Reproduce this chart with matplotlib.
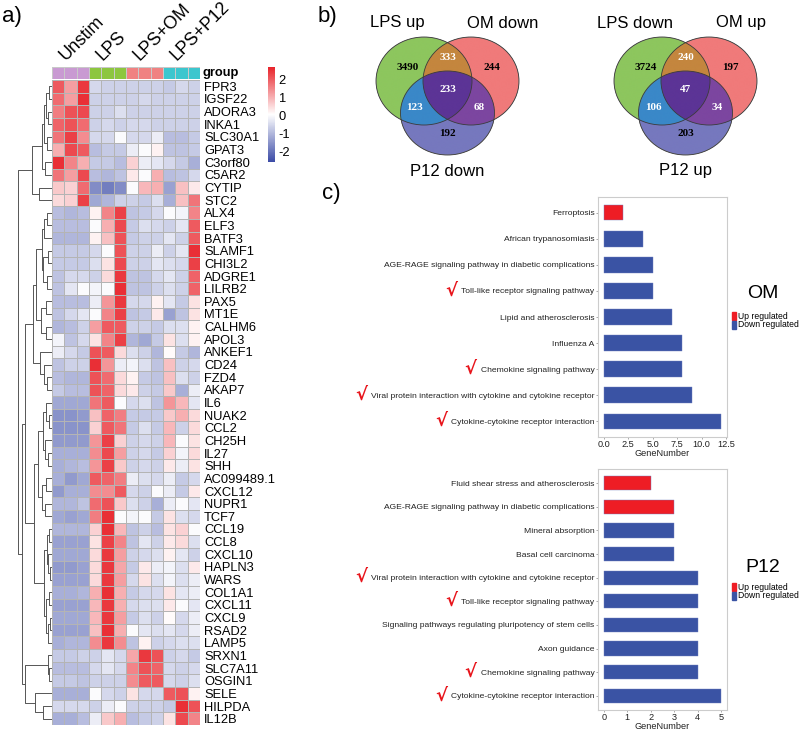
import matplotlib
matplotlib.use("Agg")
import matplotlib.pyplot as plt
import numpy as np
from matplotlib.colors import LinearSegmentedColormap, Normalize, ListedColormap, to_rgb
from matplotlib.patches import Ellipse, Rectangle

plt.rcParams['font.family'] = ['Liberation Sans', 'DejaVu Sans']

# ---------------- DATA ----------------
genes = ["FPR3", "IGSF22", "ADORA3", "INKA1", "SLC30A1", "GPAT3", "C3orf80", "C5AR2",
         "CYTIP", "STC2", "ALX4", "ELF3", "BATF3", "SLAMF1", "CHI3L2", "ADGRE1",
         "LILRB2", "PAX5", "MT1E", "CALHM6", "APOL3", "ANKEF1", "CD24", "FZD4",
         "AKAP7", "IL6", "NUAK2", "CCL2", "CH25H", "IL27", "SHH", "AC099489.1",
         "CXCL12", "NUPR1", "TCF7", "CCL19", "CCL8", "CXCL10", "HAPLN3", "WARS",
         "COL1A1", "CXCL11", "CXCL9", "RSAD2", "LAMP5", "SRXN1", "SLC7A11", "OSGIN1",
         "SELE", "HILPDA", "IL12B"]

groups = ["Unstim", "LPS", "LPS+OM", "LPS+P12"]
group_colors = ["#C99AD2", "#8DC63F", "#F08282", "#3CC6CE"]
reps_per_group = 3

# z-scores, columns: Unstim x3, LPS x3, LPS+OM x3, LPS+P12 x3
expr = np.array([
    [2.0, 1.2, 2.4, -0.5, -0.6, -0.6, -0.6, -0.6, -0.6, -0.7, -0.5, -0.6],
    [1.8, 1.2, 2.5, -0.6, -0.6, -0.6, -0.6, -0.5, -0.6, -0.6, -0.6, -0.6],
    [1.6, 2.1, 2.2, -0.6, -0.6, -0.4, -0.6, -0.6, -0.6, -0.6, -0.6, -0.6],
    [1.9, 2.1, 1.8, -0.6, -0.5, -0.6, -0.5, -0.5, -0.6, -0.6, -0.6, -0.6],
    [1.7, 2.3, 1.4, -0.5, -0.5, 0.0, -0.5, -0.5, -0.2, -0.9, -0.9, -0.7],
    [1.0, 2.2, 2.0, -0.9, -0.7, -0.7, -0.2, 0.0, 0.2, -0.8, -0.8, -0.7],
    [2.5, 1.5, 1.0, -0.7, -0.7, -0.9, 0.6, -0.2, -0.3, -0.5, -0.7, -1.1],
    [1.7, 1.2, 2.2, -0.9, -1.0, -0.8, 0.3, 0.0, 1.0, -0.9, -0.8, -0.5],
    [0.7, 0.6, 1.8, -1.6, -1.8, -1.6, 0.0, 0.9, 1.0, -1.3, 0.8, 0.3],
    [0.5, 0.6, 2.3, -1.2, -1.0, -0.6, -0.6, -0.7, -0.4, -1.1, 0.8, 1.7],
    [-0.9, -1.0, -0.9, 0.2, 1.5, 2.3, -0.8, -0.7, -0.5, 0.0, -0.1, 1.5],
    [-0.9, -0.9, -0.9, 0.0, 1.0, 2.2, -0.7, -0.4, -0.5, -0.6, -0.3, 2.0],
    [-1.0, -1.0, -1.0, 0.2, 0.8, 2.1, -0.7, -0.6, -0.6, -0.3, -0.6, 2.0],
    [-0.7, -0.7, -0.7, -0.5, 0.0, 2.1, -0.6, -0.6, -0.2, -0.6, -0.3, 2.5],
    [-0.7, -0.7, -0.7, -0.4, 0.4, 2.2, -0.6, -0.6, -0.3, -0.4, -0.5, 2.3],
    [-0.8, -0.5, -0.5, -0.6, 0.5, 2.4, -0.8, -0.8, -0.5, -0.3, -0.6, 1.9],
    [-0.8, -0.3, 0.0, -0.1, 0.0, 2.5, -0.8, -0.8, -0.6, -0.4, -0.6, 1.9],
    [-0.9, -0.9, -0.9, -0.2, 1.3, 2.4, -0.5, -0.5, 0.2, -0.3, -0.7, 0.4],
    [-0.8, -0.5, -0.3, 0.0, 1.5, 2.3, -0.8, -0.7, 0.3, -1.3, -0.8, 0.4],
    [-1.0, -0.9, -0.6, 1.2, 2.0, 2.0, -0.6, -0.6, -0.7, -0.4, -0.4, 0.2],
    [-0.1, -0.8, -0.5, 0.4, 1.5, 2.3, -1.0, -1.2, -0.7, 0.4, -0.4, 0.2],
    [-0.2, -0.5, -0.7, 2.1, 2.0, 0.5, -0.4, -0.6, -1.0, 0.1, -0.7, -1.0],
    [-0.8, -0.6, -0.6, 2.5, 1.3, -0.2, -0.1, -0.4, -0.8, 0.8, -0.6, -0.5],
    [-0.9, -1.0, -1.0, 2.1, 1.8, 0.5, 0.2, -0.7, -0.8, 0.8, -0.4, -0.6],
    [-0.7, -0.9, -0.9, 2.1, 1.9, 0.5, 0.3, -0.6, -0.7, 0.7, -1.1, -0.2],
    [-1.2, -1.2, -1.2, 1.7, 2.0, 0.0, -0.5, -0.4, -0.8, 1.3, 0.9, -0.3],
    [-1.5, -1.5, -1.4, 0.8, 1.9, 1.6, -0.7, -0.7, -0.7, 0.7, 1.0, 0.5],
    [-1.5, -1.5, -1.5, 0.6, 2.0, 1.7, -0.7, -0.4, -0.7, 0.9, -0.6, 0.5],
    [-1.4, -1.4, -1.4, 1.3, 2.3, 0.6, -0.6, -0.5, -0.6, 0.9, 0.0, 0.4],
    [-1.1, -1.1, -1.1, 1.4, 2.2, 1.2, -0.6, -0.5, -0.7, 0.6, -0.1, 0.5],
    [-1.1, -1.0, -0.9, 1.3, 2.3, 0.7, -0.6, -0.5, -0.6, 0.3, -0.2, 0.4],
    [-1.1, -1.4, -1.2, 2.0, 1.9, 1.6, -0.2, -0.4, -0.5, -0.2, -0.7, -0.5],
    [-1.4, -1.1, -1.1, 1.4, 1.4, 2.0, -0.5, -0.6, 0.0, -0.2, -0.7, 0.3],
    [-1.0, -1.0, -0.8, 1.8, 2.1, 0.7, -0.4, -0.6, -1.1, -0.2, 0.0, -0.3],
    [-1.2, -1.3, -1.2, 1.6, 2.5, 0.0, -0.1, 0.0, -0.7, 0.4, -0.4, -0.5],
    [-1.0, -1.0, -1.0, 0.6, 2.5, 0.9, -0.8, -0.6, -0.9, 0.4, 0.6, 0.0],
    [-1.3, -1.3, -1.3, 0.4, 2.3, 1.5, -0.8, -0.3, -0.6, 0.3, 0.5, -0.4],
    [-1.2, -1.2, -1.2, 0.5, 2.4, 1.2, -0.6, -0.5, -0.4, 0.2, -0.3, -0.6],
    [-1.4, -1.4, -1.3, 0.5, 2.4, 1.1, -0.7, 0.3, -0.2, -0.1, -0.4, 0.3],
    [-1.3, -1.3, -1.3, 0.5, 2.4, 1.2, -0.5, 0.4, -0.4, -0.1, -0.4, -0.2],
    [-1.1, -1.1, -1.0, 1.0, 2.5, 1.0, -0.7, -0.5, -0.5, 0.4, -0.3, -0.2],
    [-1.3, -1.3, -1.3, 0.9, 2.4, 1.0, -0.5, -0.4, -0.4, 0.3, 0.0, -0.3],
    [-1.2, -1.2, -1.2, 0.9, 2.4, 1.2, -0.7, -0.4, -0.6, 0.1, -0.5, -0.2],
    [-1.3, -1.3, -1.3, 0.8, 2.5, 1.0, 0.0, -0.3, -0.4, -0.3, -0.5, -0.2],
    [-1.1, -1.0, -1.0, 1.4, 2.4, 1.4, -0.8, 0.2, -0.6, -0.5, -0.4, -0.4],
    [-0.7, -0.7, -0.6, -0.6, -0.3, -0.5, 1.1, 2.4, 2.1, -0.6, -0.5, -0.7],
    [-0.9, -0.9, -0.9, -0.5, -0.3, -0.5, 1.5, 2.1, 1.9, -0.5, -0.6, -0.5],
    [-0.7, -0.7, -0.8, -0.6, -0.6, -0.6, 1.4, 2.0, 2.0, -0.5, -0.6, -0.4],
    [-1.1, -1.1, -1.1, 0.0, -0.5, -0.6, 0.4, -0.5, -0.5, 2.0, 2.1, 0.2],
    [-0.5, -0.5, -0.5, -0.6, -0.2, 0.0, -0.6, -0.6, -0.6, -0.7, 2.5, 2.1],
    [-1.1, -1.1, -0.9, -0.2, 0.7, 1.0, -0.9, -0.7, -0.6, 0.4, 2.2, 1.5],
])

# row dendrogram: (merge height, left, right); leaves are row indices
row_tree = (34,
    (20,
        (10, (8, (6, (3, 0, 1), (4, 2, 3)), (5, 4, 5)), (7, 6, 7)),
        (13, 8, 9)),
    (30,
        (27,
            (19,
                (16,
                    (10, (8, (5, 10, 11), 12), (9, (4, 13, 14), (5, 15, 16))),
                    (11, (6, 17, 18), (6, 19, 20))),
                (12, 21, (8, 22, (5, 23, 24)))),
            (18,
                (14,
                    (9, (6, 25, (3, 26, 27)), (7, 28, (4, 29, 30))),
                    (10, (6, 31, 32), (7, 33, 34))),
                (8, (5, (3, 35, 36), (4, 37, (2, 38, 39))),
                    (6, (3, 40, 41), (4, (2, 42, 43), 44))))),
        (27, (4, 45, (3, 46, 47)), (17, 48, (9, 49, 50)))))

venn_left_sets = ["LPS up", "OM down", "P12 down"]
venn_left_counts = {"100": 3490, "010": 244, "001": 192, "110": 333,
                    "101": 123, "011": 68, "111": 233}
venn_right_sets = ["LPS down", "OM up", "P12 up"]
venn_right_counts = {"100": 3724, "010": 197, "001": 203, "110": 240,
                     "101": 106, "011": 34, "111": 47}

om_terms = ["Ferroptosis", "African trypanosomiasis",
            "AGE-RAGE signaling pathway in diabetic complications",
            "Toll-like receptor signaling pathway", "Lipid and atherosclerosis",
            "Influenza A", "Chemokine signaling pathway",
            "Viral protein interaction with cytokine and cytokine receptor",
            "Cytokine-cytokine receptor interaction"]
om_counts = [2, 4, 5, 5, 7, 8, 8, 9, 12]
om_dir = ["up", "down", "down", "down", "down", "down", "down", "down", "down"]
om_checked = [False, False, False, True, False, False, True, True, True]

p12_terms = ["Fluid shear stress and atherosclerosis",
             "AGE-RAGE signaling pathway in diabetic complications",
             "Mineral absorption", "Basal cell carcinoma",
             "Viral protein interaction with cytokine and cytokine receptor",
             "Toll-like receptor signaling pathway",
             "Signaling pathways regulating pluripotency of stem cells",
             "Axon guidance", "Chemokine signaling pathway",
             "Cytokine-cytokine receptor interaction"]
p12_counts = [2, 3, 3, 3, 4, 4, 4, 4, 4, 5]
p12_dir = ["up", "up", "down", "down", "down", "down", "down", "down", "down", "down"]
p12_checked = [False, False, False, False, True, True, False, False, True, True]

# ---------------- FIGURE ----------------
W, H = 800, 731
fig = plt.figure(figsize=(W / 100, H / 100), dpi=100)


def fax(x0, y0, x1, y1):
    # axes from pixel box (top-left origin)
    return fig.add_axes([x0 / W, (H - y1) / H, (x1 - x0) / W, (y1 - y0) / H])


# ---- a) heatmap ----
heat_cmap = LinearSegmentedColormap.from_list("bwr_ph", ["#3B4BA6", "#FFFFFF", "#E8232A"])
norm = Normalize(vmin=-2.55, vmax=2.66)
n_rows, n_cols = expr.shape

ax_h = fax(52, 80, 200, 725)
ax_h.pcolormesh(expr, cmap=heat_cmap, norm=norm, edgecolors="#B4B4B4", linewidth=0.4)
ax_h.set_xlim(0, n_cols)
ax_h.set_ylim(n_rows, 0)
ax_h.set_xticks([])
ax_h.yaxis.tick_right()
ax_h.set_yticks(np.arange(n_rows) + 0.5)
ax_h.set_yticklabels(genes, fontsize=9.3)
ax_h.tick_params(axis="y", length=0, pad=3)
for s in ax_h.spines.values():
    s.set_visible(False)

ax_g = fax(52, 67, 200, 78.5)
group_idx = np.repeat(np.arange(len(groups)), reps_per_group)[None, :]
ax_g.pcolormesh(group_idx, cmap=ListedColormap(group_colors), edgecolors="#C8C8C8", linewidth=0.4)
ax_g.set_xlim(0, n_cols)
ax_g.set_ylim(1, 0)
ax_g.set_xticks([])
ax_g.set_yticks([])
for s in ax_g.spines.values():
    s.set_visible(False)
ax_g.text(1.02, 0.5, "group", transform=ax_g.transAxes, fontsize=9.3,
          fontweight="bold", va="center", ha="left")
for i, g in enumerate(groups):
    xc = (i + 0.5) * reps_per_group
    ax_g.text(xc - 0.4, -0.5, g, fontsize=12.8, rotation=45, rotation_mode="anchor",
              ha="left", va="baseline")

ax_d = fax(8, 80, 52, 725)


def draw_tree(ax, node):
    if isinstance(node, int):
        return node + 0.5, 0.0
    h, left, right = node
    y1, h1 = draw_tree(ax, left)
    y2, h2 = draw_tree(ax, right)
    ax.plot([h1, h, h, h2], [y1, y1, y2, y2], color="#555555", lw=0.7)
    return (y1 + y2) / 2, h


draw_tree(ax_d, row_tree)
ax_d.set_xlim(44, 0)
ax_d.set_ylim(n_rows, 0)
ax_d.axis("off")

cax = fax(268, 67, 274.5, 162)
cb = fig.colorbar(plt.cm.ScalarMappable(norm=norm, cmap=heat_cmap), cax=cax)
cb.set_ticks([2, 1, 0, -1, -2])
cb.set_ticklabels(["2", "1", "0", "-1", "-2"])
cb.ax.tick_params(length=0, labelsize=9.3, pad=3)
cb.outline.set_visible(False)

fig.text(2 / W, 1 - 22 / H, "a)", fontsize=16, va="baseline", ha="left")

# ---- b) venn diagrams ----
ax_v = fax(290, 0, 800, 178)
ax_v.set_xlim(290, 800)
ax_v.set_ylim(178, 0)
ax_v.axis("off")

region_colors = {"100": "#8DC65E", "010": "#F07A7A", "001": "#7678BE",
                 "110": "#C4863E", "101": "#3A88C8", "011": "#7C46A0", "111": "#5C3496"}
label_white = {"110", "101", "011", "111"}


def draw_venn(ax, cx0, sets, counts):
    rx, ry = 48, 44
    centers = [(cx0, 81), (cx0 + 47, 81), (cx0 + 23.5, 113)]
    radii = [(rx, ry), (rx, ry), (47, 42)]
    xs = np.linspace(cx0 - 55, cx0 + 102, 630)
    ys = np.linspace(30, 162, 530)
    X, Y = np.meshgrid(xs, ys)
    member = [((X - c[0]) / r[0]) ** 2 + ((Y - c[1]) / r[1]) ** 2 <= 1
              for c, r in zip(centers, radii)]
    img = np.zeros(X.shape + (4,))
    for code, col in region_colors.items():
        m = np.ones(X.shape, bool)
        for k in range(3):
            m &= member[k] if code[k] == "1" else ~member[k]
        img[m] = list(to_rgb(col)) + [1.0]
    ax.imshow(img, extent=(xs[0], xs[-1], ys[-1], ys[0]), interpolation="antialiased",
              aspect="auto", zorder=1)
    for c, r in zip(centers, radii):
        ax.add_patch(Ellipse(c, 2 * r[0], 2 * r[1], fill=False, edgecolor="#3A3A3A",
                             lw=0.6, zorder=2))
    spots = {"100": (-16, 68), "010": (68, 68), "001": (23.5, 134), "110": (23.5, 57),
             "101": (-9, 107), "011": (55, 107), "111": (23.5, 90)}
    for code, (dx, yy) in spots.items():
        ax.text(cx0 + dx, yy, str(counts[code]), family="Liberation Serif", fontsize=8,
                fontweight="bold", ha="center", va="center", zorder=3,
                color="white" if code in label_white else "black")
    ax.text(cx0 - 27, 23, sets[0], fontsize=12, ha="center", va="center")
    ax.text(cx0 + 79, 23, sets[1], fontsize=12, ha="center", va="center")
    ax.text(cx0 + 23.5, 171, sets[2], fontsize=12, ha="center", va="center")


draw_venn(ax_v, 424, venn_left_sets, venn_left_counts)
draw_venn(ax_v, 662, venn_right_sets, venn_right_counts)
ax_v.set_xlim(290, 800)
ax_v.set_ylim(178, 0)
fig.text(318 / W, 1 - 22 / H, "b)", fontsize=16, va="baseline", ha="left")

# ---- c) KEGG bar charts ----
up_color, down_color = "#EE1D25", "#3A53A4"
fig.text(322 / W, 1 - 199 / H, "c)", fontsize=16, va="baseline", ha="left")


def bar_panel(ax, terms, counts, direction, ticks, ticklabels):
    y = np.arange(len(terms))
    cols = [up_color if d == "up" else down_color for d in direction]
    ax.barh(y, counts, height=0.6, color=cols, edgecolor="#6F80C0", linewidth=0.3)
    ax.set_yticks(y)
    ax.set_yticklabels(terms, fontsize=6.1, color="#222222")
    ax.set_ylim(len(terms) - 0.4, -0.6)
    top = max(counts)
    ax.set_xlim(-0.05 * top, top * 1.05)
    ax.set_xticks(ticks)
    ax.set_xticklabels(ticklabels, fontsize=6.6, color="#222222")
    ax.set_xlabel("GeneNumber", fontsize=6.6, labelpad=-0.5, color="#222222")
    ax.tick_params(length=1.5, width=0.5, color="#888888", pad=1)
    for s in ax.spines.values():
        s.set_color("#CCCCCC")
        s.set_linewidth(0.8)


ax_om = fax(598, 197, 727, 437)
bar_panel(ax_om, om_terms, om_counts, om_dir, [0, 2.5, 5, 7.5, 10, 12.5],
          ["0.0", "2.5", "5.0", "7.5", "10.0", "12.5"])
ax_p = fax(598, 469, 727, 710)
bar_panel(ax_p, p12_terms, p12_counts, p12_dir, [0, 1, 2, 3, 4, 5],
          ["0", "1", "2", "3", "4", "5"])


def legend_block(title, ytitle, yleg):
    fig.text(763 / W, 1 - ytitle / H, title, fontsize=14, ha="center", va="center")
    for k, (lab, col) in enumerate([("Up regulated", up_color), ("Down regulated", down_color)]):
        yy = yleg + k * 8.5
        fig.add_artist(Rectangle((732 / W, 1 - (yy + 4) / H), 4 / W, 8 / H,
                                 transform=fig.transFigure, color=col))
        fig.text(738 / W, 1 - yy / H, lab, fontsize=6.2, ha="left", va="center")


legend_block("OM", 294, 316)
legend_block("P12", 568, 587)

# red check marks before selected terms
fig.canvas.draw()
renderer = fig.canvas.get_renderer()
for ax, checked in [(ax_om, om_checked), (ax_p, p12_checked)]:
    for lbl, chk in zip(ax.get_yticklabels(), checked):
        if not chk:
            continue
        bb = lbl.get_window_extent(renderer)
        yc = (bb.y0 + bb.y1) / 2
        fig.text((bb.x0 - 4) / W, (yc + 1.5) / H, "\u221a", color="#E8141B",
                 fontsize=13, fontweight="bold", ha="right", va="center",
                 family="DejaVu Sans")

fig.savefig("out.png", dpi=100)
